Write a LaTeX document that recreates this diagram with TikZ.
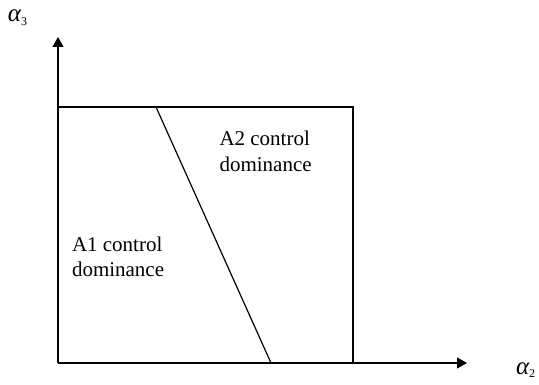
\documentclass[tikz,border=0pt]{standalone}
\usepackage{fontspec}
\setmainfont{Liberation Serif}
\usetikzlibrary{arrows.meta}
\tikzset{
    font = \fontsize{21}{25.7}\selectfont,
    every node/.style = {
        inner sep = 0pt,
        outer sep = 0pt
    },
    region note/.style = {
        anchor = base west,
        align = left
    },
    axis label/.style = {
        anchor = base west
    },
    border/.style = {
        line width = 1.2pt
    },
    axis/.style = {
        -{Triangle[length=10pt,width=11pt]},
        line width = 1.2pt
    }
}
\newcommand{\alphasub}[1]{{\fontsize{25}{25}\selectfont\itshape α}\raisebox{-3.5pt}{\fontsize{12}{12}\selectfont #1}}

\begin{document}
\begin{tikzpicture}
    \useasboundingbox (0,0) rectangle (539pt,-385pt);
    % axes
    \coordinate (origin) at (58pt,-363pt);
    \coordinate (xend) at (467pt,-363pt);
    \coordinate (yend) at (58pt,-37pt);
    \draw[axis] (origin) -- (xend);
    \draw[axis] (origin) -- (yend);
    \node (alpha3) at (8pt,-21.7pt) [axis label]{\alphasub{3}};
    \node (alpha2) at (516pt,-374.3pt) [axis label]{\alphasub{2}};
    % region box
    \coordinate (boxtl) at (58pt,-107pt);
    \coordinate (boxtr) at (353pt,-107pt);
    \coordinate (boxbr) at (353pt,-363pt);
    \draw[border] (boxtl) -- (boxtr) -- (boxbr);
    \coordinate (cuttop) at (156pt,-107pt);
    \coordinate (cutbot) at (271pt,-363pt);
    \draw[border] (cuttop) -- (cutbot);
    % regions, base = last line
    \node (a2) at (219.5pt,-171.7pt) [region note]{A2 control\\dominance};
    \node (a1) at (72pt,-276.7pt) [region note]{A1 control\\dominance};
\end{tikzpicture}
\end{document}
